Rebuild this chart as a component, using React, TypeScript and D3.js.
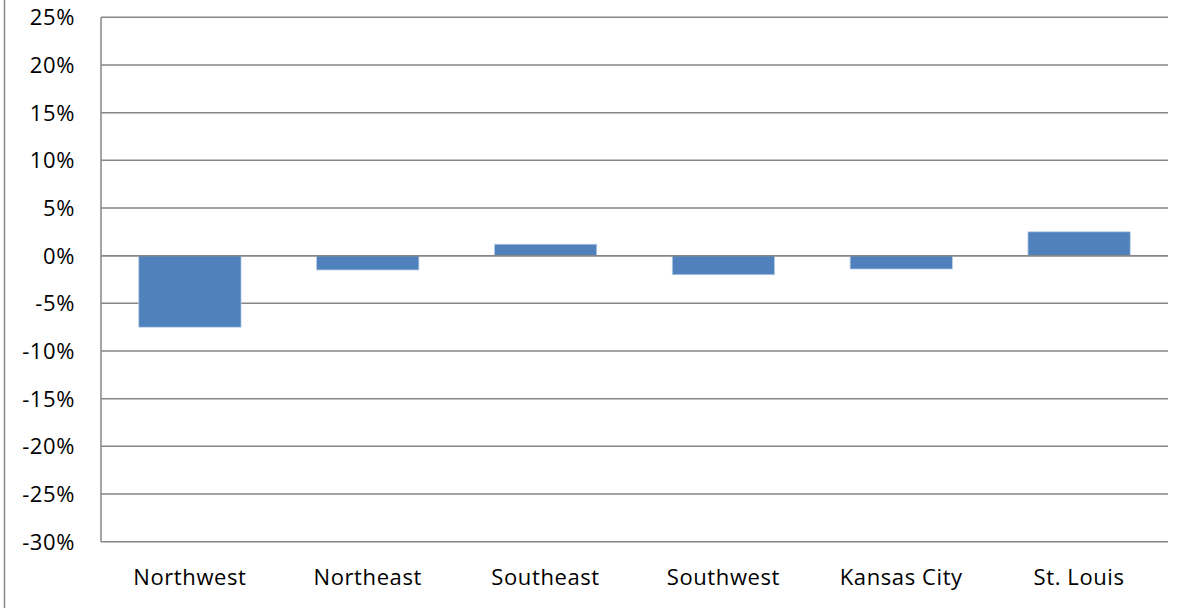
import { useEffect, useRef } from 'react';
import * as d3 from 'd3';

const regions = ['Northwest', 'Northeast', 'Southeast', 'Southwest', 'Kansas City', 'St. Louis'];
const changes = [-7.5, -1.5, 1.2, -2.0, -1.4, 2.5];
const yTicks = [25, 20, 15, 10, 5, 0, -5, -10, -15, -20, -25, -30];

const W = 1192;
const H = 608;

export default function App() {
  const svgRef = useRef<SVGSVGElement>(null);

  useEffect(() => {
    if (!svgRef.current) return;
    const svg = d3.select(svgRef.current);
    svg.selectAll('*').remove();

    const left = 101;
    const right = 1168;
    const top = 17.3;
    const bottom = 541.7;
    const font = '"Open Sans", Lato, sans-serif';

    const x = d3.scaleBand<string>().domain(regions).range([left, right]).paddingInner(0.425).paddingOuter(0.2125);
    const y = d3.scaleLinear().domain([-30, 25]).range([bottom, top]);

    // outer chart border (left edge only visible)
    svg.append('line')
      .attr('x1', 4.5).attr('x2', 4.5).attr('y1', 0).attr('y2', H)
      .attr('stroke', '#868686').attr('stroke-width', 1.5);

    // gridlines
    svg.append('g')
      .selectAll('line')
      .data(yTicks)
      .join('line')
      .attr('x1', left).attr('x2', right)
      .attr('y1', (d) => y(d)).attr('y2', (d) => y(d))
      .attr('stroke', '#868686')
      .attr('stroke-width', 1.5);

    // axis line
    svg.append('line')
      .attr('x1', left).attr('x2', left).attr('y1', top).attr('y2', bottom)
      .attr('stroke', '#868686').attr('stroke-width', 1.5);

    // bars
    svg.append('g')
      .selectAll('rect')
      .data(changes)
      .join('rect')
      .attr('x', (_, i) => x(regions[i])!)
      .attr('width', x.bandwidth())
      .attr('y', (d) => y(Math.max(0, d)))
      .attr('height', (d) => Math.abs(y(d) - y(0)))
      .attr('fill', '#4F81BD')
      .attr('stroke', '#b9cde5')
      .attr('stroke-width', 0.75);

    // zero line on top
    svg.append('line')
      .attr('x1', left).attr('x2', right).attr('y1', y(0)).attr('y2', y(0))
      .attr('stroke', '#868686').attr('stroke-width', 1.5);

    // y tick labels
    svg.append('g')
      .selectAll('text')
      .data(yTicks)
      .join('text')
      .attr('x', 75)
      .attr('y', (d) => y(d))
      .attr('dy', '0.36em')
      .attr('text-anchor', 'end')
      .attr('font-family', font)
      .attr('font-size', 22)
      .attr('letter-spacing', 0.6)
      .attr('fill', '#000')
      .text((d) => `${d}%`);

    // category labels
    svg.append('g')
      .selectAll('text')
      .data(regions)
      .join('text')
      .attr('x', (d) => x(d)! + x.bandwidth() / 2)
      .attr('y', 577)
      .attr('dy', '0.36em')
      .attr('text-anchor', 'middle')
      .attr('font-family', font)
      .attr('font-size', 22)
      .attr('letter-spacing', 0.6)
      .attr('fill', '#000')
      .text((d) => d);
  }, []);

  return (
    <svg
      ref={svgRef}
      width={W}
      height={H}
      style={{ position: 'absolute', left: 0, top: 0, background: '#fff' }}
    />
  );
}
